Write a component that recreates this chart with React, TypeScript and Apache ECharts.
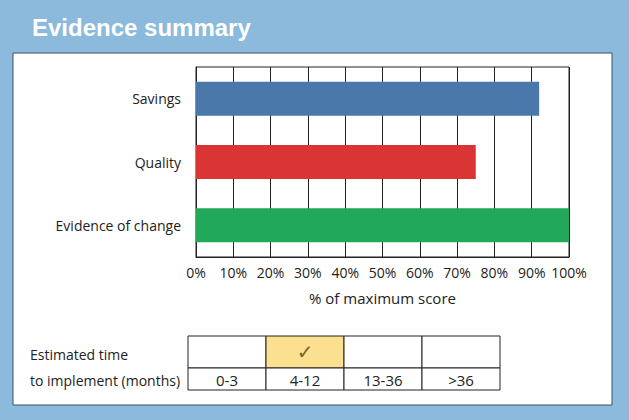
import React, { useEffect, useRef } from "react";
import * as echarts from "echarts";

const categories = ["Savings", "Quality", "Evidence of change"];
const scores = [92, 75, 100];
const barColors = ["#4a78aa", "#d93535", "#22a85b"];
const xTicks = [0, 10, 20, 30, 40, 50, 60, 70, 80, 90, 100];
const timeBands = ["0-3", "4-12", "13-36", ">36"];
const selectedBand = 1;

const FONT = "'Open Sans', 'Noto Sans', sans-serif";

export default function App() {
  const ref = useRef<HTMLDivElement>(null);
  useEffect(() => {
    if (!ref.current) return;
    const chart = echarts.init(ref.current, undefined, { renderer: "svg" });

    const tableLeft = 188;
    const colW = 78;
    const rowTop = 336;
    const rowMid = 368;
    const rowBot = 390;

    const tableEls: any[] = [];
    timeBands.forEach((b, i) => {
      const x = tableLeft + i * colW;
      tableEls.push({
        type: "rect",
        shape: { x, y: rowTop, width: colW, height: rowMid - rowTop },
        style: { fill: i === selectedBand ? "#fbe08f" : "#ffffff", stroke: "#222", lineWidth: 1 },
      });
      tableEls.push({
        type: "rect",
        shape: { x, y: rowMid, width: colW, height: rowBot - rowMid },
        style: { fill: "#ffffff", stroke: "#222", lineWidth: 1 },
      });
      tableEls.push({
        type: "text",
        x: x + colW / 2,
        y: (rowMid + rowBot) / 2 + 1,
        style: { text: b, fill: "#222", font: `15px ${FONT}`, align: "center", verticalAlign: "middle" },
      });
      if (i === selectedBand) {
        tableEls.push({
          type: "text",
          x: x + colW / 2,
          y: (rowTop + rowMid) / 2,
          style: { text: "✓", fill: "#7d6430", font: `20px 'DejaVu Sans', sans-serif`, align: "center", verticalAlign: "middle" },
        });
      }
    });

    chart.setOption({
      animation: false,
      backgroundColor: "#8bbadd",
      graphic: [
        {
          type: "rect",
          shape: { x: 13, y: 53, width: 599, height: 352 },
          style: { fill: "#ffffff", stroke: "#3d4f63", lineWidth: 1 },
          z: -10,
        },
        {
          type: "text",
          x: 32,
          y: 27,
          style: {
            text: "Evidence summary",
            fill: "#ffffff",
            font: "bold 24px 'Liberation Sans', Arial, sans-serif",
            verticalAlign: "middle",
          },
        },
        {
          type: "text",
          x: 30,
          y: 354,
          style: { text: "Estimated time", fill: "#222", font: `14px ${FONT}`, verticalAlign: "middle" },
        },
        {
          type: "text",
          x: 30,
          y: 380,
          style: { text: "to implement (months)", fill: "#222", font: `14px ${FONT}`, verticalAlign: "middle" },
        },
        ...tableEls,
      ],
      grid: {
        left: 196,
        right: 60,
        top: 67,
        height: 190,
        show: true,
        borderColor: "#222",
        borderWidth: 1,
        backgroundColor: "#ffffff",
      },
      xAxis: {
        type: "value",
        min: xTicks[0],
        max: xTicks[xTicks.length - 1],
        interval: 10,
        axisLine: { show: true, lineStyle: { color: "#222" } },
        axisTick: { show: false },
        splitLine: { show: true, lineStyle: { color: "#222", width: 1 } },
        axisLabel: { formatter: "{value}%", color: "#222", fontSize: 14, fontFamily: FONT, margin: 8 },
        name: "% of maximum score",
        nameLocation: "middle",
        nameGap: 33,
        nameTextStyle: { color: "#222", fontSize: 15, fontFamily: FONT },
      },
      yAxis: {
        type: "category",
        inverse: true,
        data: categories,
        axisLine: { show: true, lineStyle: { color: "#222" } },
        axisTick: { show: false },
        axisLabel: { color: "#222", fontSize: 14, fontFamily: FONT, margin: 15 },
      },
      series: [
        {
          type: "bar",
          data: scores.map((v, i) => ({ value: v, itemStyle: { color: barColors[i] } })),
          barWidth: 34,
        },
      ],
    });
    return () => chart.dispose();
  }, []);
  return <div ref={ref} style={{ position: "fixed", left: 0, top: 0, width: 629, height: 420 }} />;
}
